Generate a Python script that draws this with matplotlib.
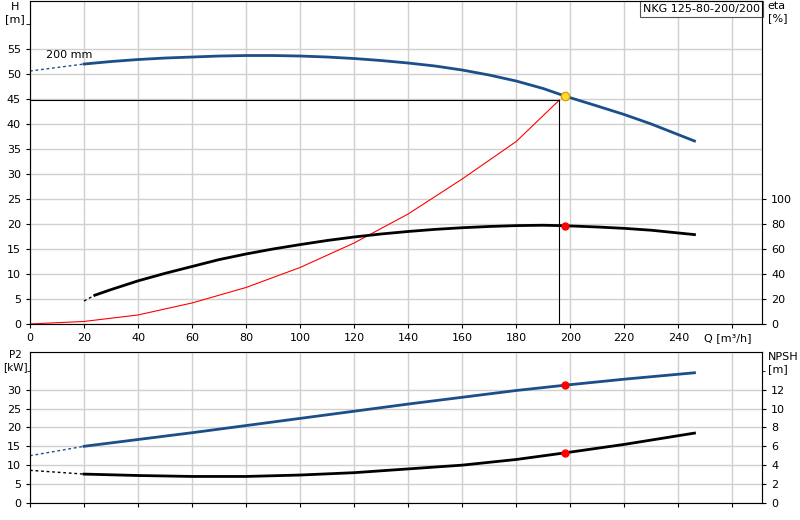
import matplotlib
matplotlib.use("Agg")
import matplotlib.pyplot as plt
import numpy as np

q_h = [20, 30, 40, 50, 60, 70, 80, 90, 100, 110, 120, 130, 140, 150, 160, 170, 180, 190, 198, 210, 220, 230, 246]
h = [52.0, 52.5, 52.9, 53.2, 53.4, 53.6, 53.7, 53.7, 53.6, 53.4, 53.1, 52.7, 52.2, 51.6, 50.8, 49.8, 48.6, 47.1, 45.6, 43.6, 41.9, 40.0, 36.6]
q_hd = [0, 20]; h_d = [50.6, 52.0]
q_eta = [24, 30, 40, 50, 60, 70, 80, 90, 100, 110, 120, 130, 140, 150, 160, 170, 180, 190, 198, 210, 220, 230, 246]
eta = [23, 27.5, 34.5, 40.5, 46, 51.5, 56, 60, 63.5, 66.8, 69.6, 72, 74, 75.7, 77, 78, 78.7, 79, 78.6, 77.6, 76.5, 75, 71.5]
q_etad = [20, 24]; eta_d = [18.4, 23]
q_sys = [0, 20, 40, 60, 80, 100, 120, 140, 160, 180, 196]
h_sys = [0, 0.5, 1.8, 4.2, 7.3, 11.3, 16.2, 22, 29, 36.5, 44.8]
q_op, h_op, eta_op = 198, 45.6, 78.6
q_p2 = [20, 40, 60, 80, 100, 120, 140, 160, 180, 198, 220, 246]
p2 = [15, 16.8, 18.6, 20.5, 22.4, 24.3, 26.2, 28.0, 29.8, 31.2, 32.8, 34.5]
p2_d = [12.5, 15]
npsh = [3.05, 2.9, 2.8, 2.8, 2.95, 3.2, 3.6, 4.0, 4.6, 5.3, 6.2, 7.4]
npsh_d = [3.45, 3.05]
title = "NKG 125-80-200/200"

blue = "#1a4f8a"
fig = plt.figure(figsize=(8, 5.2), dpi=100)
ax = fig.add_axes([0.0375, 0.377, 0.915, 0.621])
ax2 = ax.twinx()
bx = fig.add_axes([0.0375, 0.033, 0.915, 0.29])
bx2 = bx.twinx()
XMAX = 271
for a in (ax, bx):
    a.set_xlim(0, XMAX)
    a.set_xticks(range(0, 261, 20))
    a.grid(True, color="#d0d0d0", lw=1)
    a.set_axisbelow(True)
    a.tick_params(labelsize=8, length=3)
    for s in a.spines.values():
        s.set_color("#888")
ax.set_xticklabels([str(v) if v < 260 else "" for v in range(0, 261, 20)])
bx.set_xticklabels([])
ax.set_ylim(0, 64.6); ax.set_yticks(range(0, 56, 5)); ax.set_yticks([60], minor=True)
ax.tick_params(axis="y", which="minor", length=3)
ax2.set_ylim(0, 64.6 * 4); ax2.set_yticks(range(0, 101, 20)); ax2.tick_params(labelsize=8, length=3)
bx.set_ylim(0, 40); bx.set_yticks(range(0, 31, 5)); bx.set_yticks([35], minor=True)
bx2.set_ylim(0, 16); bx2.set_yticks(range(0, 13, 2)); bx2.set_yticks([14], minor=True)
bx2.tick_params(labelsize=8, length=3)
for a in (ax2, bx2):
    a.spines["right"].set_color("k"); a.spines["left"].set_color("k")

ax.plot(q_h, h, color=blue, lw=2)
ax.plot(q_hd, h_d, color=blue, lw=1, ls=(0, (2, 2)))
ax.plot(q_sys, h_sys, color="red", lw=0.8)
ax.plot([0, q_sys[-1]], [h_sys[-1]] * 2, color="k", lw=0.8)
ax.plot([q_sys[-1]] * 2, [0, h_sys[-1]], color="k", lw=0.8)
ax.plot(q_op, h_op, "o", ms=6, mfc="#ffe030", mec="#e0a000")
ax2.plot(q_eta, eta, color="k", lw=2)
ax2.plot(q_etad, eta_d, color="k", lw=1, ls=(0, (2, 2)))
ax2.plot(q_op, eta_op, "o", ms=5, color="red")
ax.text(6, 53.3, "200 mm", fontsize=8)
fig.text(15 / 800, 1 - 2 / 520, "H\n[m]", ha="center", va="top", fontsize=8)
ax.text(1.008, 1.0, "eta\n[%]", transform=ax.transAxes, ha="left", va="top", fontsize=8)
ax.text(0.997, 0.99, title, transform=ax.transAxes, ha="right", va="top", fontsize=8,
        bbox=dict(fc="white", ec="#555", lw=0.8, pad=2))
ax.text(0.985, -0.045, "Q [m³/h]", transform=ax.transAxes, ha="right", va="center", fontsize=8)

bx.plot(q_p2, p2, color=blue, lw=2)
bx.plot(q_hd, p2_d, color=blue, lw=1, ls=(0, (2, 2)))
bx.plot(q_op, 31.2, "o", ms=5, color="red")
bx2.plot(q_p2, npsh, color="k", lw=2)
bx2.plot(q_hd, npsh_d, color="k", lw=1, ls=(0, (2, 2)))
bx2.plot(q_op, 5.3, "o", ms=5, color="red")
fig.text(15 / 800, 1 - 350 / 520, "P2\n[kW]", ha="center", va="top", fontsize=7.5)
bx.text(1.008, 1.0, "NPSH\n[m]", transform=bx.transAxes, ha="left", va="top", fontsize=8)
fig.savefig("out.png", dpi=100)
